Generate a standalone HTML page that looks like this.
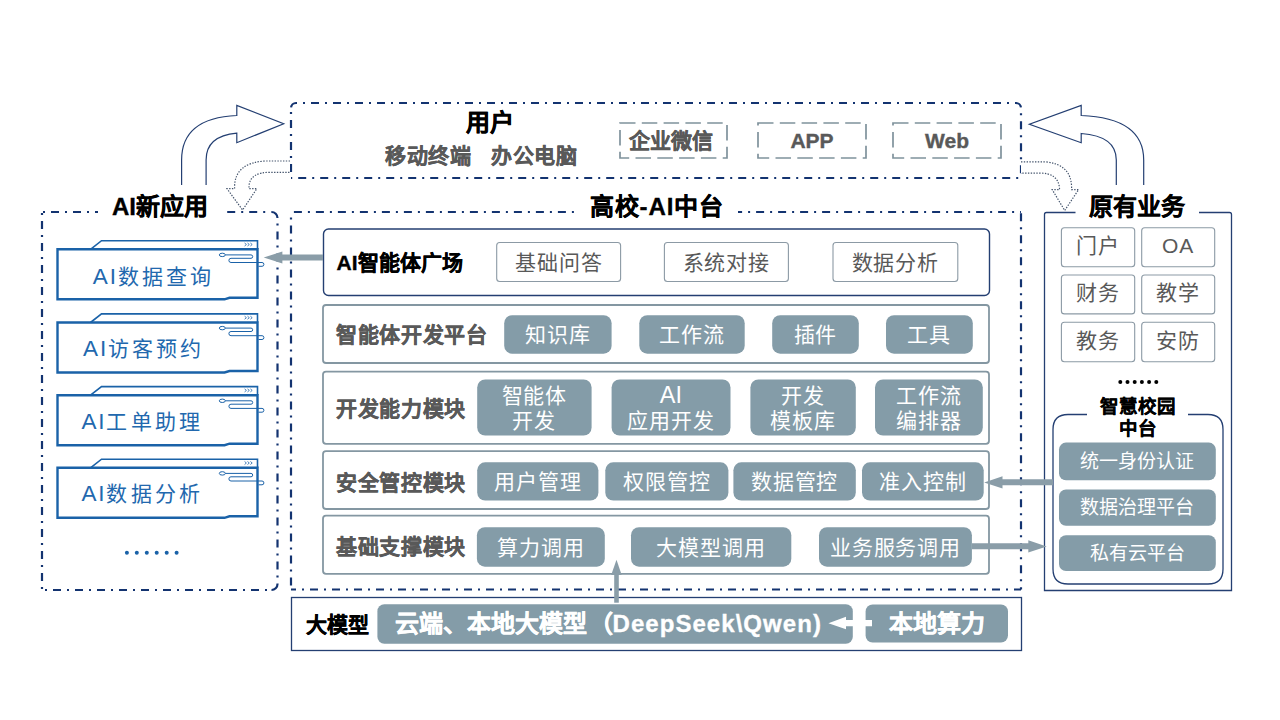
<!DOCTYPE html>
<html lang="zh-CN"><head><meta charset="utf-8"><style>
html,body{margin:0;padding:0;background:#fff;}
body{width:1280px;height:720px;position:relative;overflow:hidden;font-family:"Liberation Sans",sans-serif;}
svg{position:absolute;left:0;top:0;}
.t{position:absolute;display:flex;align-items:center;justify-content:center;text-align:center;white-space:nowrap;line-height:1;}
</style></head><body>
<svg width="1280" height="720" viewBox="0 0 1280 720">
<path d="M291 108 A5 5 0 0 1 296 103 H1016 A5 5 0 0 1 1021 108" fill="none" stroke="#133370" stroke-width="2.2" stroke-dasharray="8 6 2 6" stroke-dashoffset="-0.65"/>
<path d="M291 108 V178" fill="none" stroke="#133370" stroke-width="2.2" stroke-dasharray="8 6 2 6" stroke-dashoffset="-12.10"/>
<path d="M1021 108 V178" fill="none" stroke="#133370" stroke-width="2.2" stroke-dasharray="8 6 2 6" stroke-dashoffset="-13.30"/>
<path d="M291 178 H1021" fill="none" stroke="#133370" stroke-width="2.2" stroke-dasharray="8 6 2 6" stroke-dashoffset="-7.20"/>
<rect x="620" y="123" width="107" height="35" fill="none" stroke="#7F929C" stroke-width="1.7" stroke-dasharray="15.5 6.3"/>
<rect x="758" y="123" width="108" height="35" fill="none" stroke="#7F929C" stroke-width="1.7" stroke-dasharray="15.5 6.3"/>
<rect x="893" y="123" width="108" height="35" fill="none" stroke="#7F929C" stroke-width="1.7" stroke-dasharray="15.5 6.3"/>
<path d="M42 212 H98" fill="none" stroke="#133370" stroke-width="2.2" stroke-dasharray="8 6 2 6" stroke-dashoffset="-9.00"/>
<path d="M227 212 H271.5" fill="none" stroke="#133370" stroke-width="2.2" stroke-dasharray="8 6 2 6" stroke-dashoffset="-0.20"/>
<path d="M271.5 212 A6 6 0 0 1 277.5 218" fill="none" stroke="#133370" stroke-width="2.2"/>
<path d="M277.5 218 V584" fill="none" stroke="#133370" stroke-width="2.2" stroke-dasharray="8 6 2 6" stroke-dashoffset="-13.40"/>
<path d="M277.5 584 A6 6 0 0 1 271.5 590" fill="none" stroke="#133370" stroke-width="2.2"/>
<path d="M42 590 H271.5" fill="none" stroke="#133370" stroke-width="2.2" stroke-dasharray="8 6 2 6" stroke-dashoffset="-11.00"/>
<path d="M42 212 V590" fill="none" stroke="#133370" stroke-width="2.2" stroke-dasharray="8 6 2 6" stroke-dashoffset="-9.10"/>
<path d="M291 212 H574" fill="none" stroke="#133370" stroke-width="2.2" stroke-dasharray="8 6 2 6" stroke-dashoffset="-2.90"/>
<path d="M738 212 H1021" fill="none" stroke="#133370" stroke-width="2.2" stroke-dasharray="8 6 2 6" stroke-dashoffset="-18.10"/>
<path d="M291 212 V589.5" fill="none" stroke="#133370" stroke-width="2.2" stroke-dasharray="8 6 2 6" stroke-dashoffset="-13.40"/>
<path d="M1021 212 V589.5" fill="none" stroke="#133370" stroke-width="2.2" stroke-dasharray="8 6 2 6" stroke-dashoffset="-1.20"/>
<path d="M291 589.5 H1021" fill="none" stroke="#133370" stroke-width="2.2" stroke-dasharray="8 6 2 6" stroke-dashoffset="-19.00"/>
<path d="M1075.5 212.5 H1046.5 Q1044.5 212.5 1044.5 214.5 V590.5 H1231.5 V214.5 Q1231.5 212.5 1229.5 212.5 H1199" fill="none" stroke="#243F72" stroke-width="1.3"/>
<rect x="291.5" y="597.5" width="730" height="53" fill="none" stroke="#243F72" stroke-width="1.3"/>
<rect x="323.5" y="229" width="666" height="66.5" rx="5" fill="#fff" stroke="#243F72" stroke-width="1.4"/>
<rect x="496.7" y="242.5" width="123.90000000000003" height="39" rx="3" fill="#fff" stroke="#8C9AA5" stroke-width="1.1"/>
<rect x="664.4" y="242.5" width="124.0" height="39" rx="3" fill="#fff" stroke="#8C9AA5" stroke-width="1.1"/>
<rect x="833" y="242.5" width="124.79999999999995" height="39" rx="3" fill="#fff" stroke="#8C9AA5" stroke-width="1.1"/>
<rect x="323" y="305" width="666" height="58" rx="3" fill="#fff" stroke="#8497A2" stroke-width="1.8"/>
<rect x="504.2" y="315.2" width="107.40000000000003" height="38.5" rx="8" fill="#849CA8"/>
<rect x="639.3" y="315.2" width="105.40000000000009" height="38.5" rx="8" fill="#849CA8"/>
<rect x="772.2" y="315.2" width="86.59999999999991" height="38.5" rx="8" fill="#849CA8"/>
<rect x="886" y="315.2" width="86.79999999999995" height="38.5" rx="8" fill="#849CA8"/>
<rect x="323" y="371.6" width="666" height="72.19999999999999" rx="3" fill="#fff" stroke="#8497A2" stroke-width="1.8"/>
<rect x="477.2" y="379.4" width="114.40000000000003" height="56.200000000000045" rx="8" fill="#849CA8"/>
<rect x="611.6" y="379.4" width="118.89999999999998" height="56.200000000000045" rx="8" fill="#849CA8"/>
<rect x="750.4" y="379.4" width="105.39999999999998" height="56.200000000000045" rx="8" fill="#849CA8"/>
<rect x="875" y="379.4" width="107.79999999999995" height="56.200000000000045" rx="8" fill="#849CA8"/>
<rect x="323" y="451.2" width="666" height="57.80000000000001" rx="3" fill="#fff" stroke="#8497A2" stroke-width="1.8"/>
<rect x="477.2" y="462.3" width="121.19999999999999" height="38.19999999999999" rx="8" fill="#849CA8"/>
<rect x="605.3" y="462.3" width="123.10000000000002" height="38.19999999999999" rx="8" fill="#849CA8"/>
<rect x="733.4" y="462.3" width="122.39999999999998" height="38.19999999999999" rx="8" fill="#849CA8"/>
<rect x="862" y="462.3" width="121.70000000000005" height="38.19999999999999" rx="8" fill="#849CA8"/>
<rect x="323" y="515.7" width="666" height="58.09999999999991" rx="3" fill="#fff" stroke="#8497A2" stroke-width="1.8"/>
<rect x="476.9" y="527.2" width="127.89999999999998" height="39.5" rx="8" fill="#849CA8"/>
<rect x="631" y="527.2" width="160.29999999999995" height="39.5" rx="8" fill="#849CA8"/>
<rect x="819" y="527.2" width="152.89999999999998" height="39.5" rx="8" fill="#849CA8"/>
<rect x="377.4" y="604.3" width="475.4" height="39.4" rx="7" fill="#849CA8"/>
<rect x="865.6" y="604.5" width="142.4" height="38" rx="7" fill="#849CA8"/>
<rect x="1061.4" y="227.8" width="73.29999999999995" height="38.89999999999998" rx="3" fill="#fff" stroke="#8C9AA5" stroke-width="1.1"/>
<rect x="1141.7" y="227.8" width="73.0" height="38.89999999999998" rx="3" fill="#fff" stroke="#8C9AA5" stroke-width="1.1"/>
<rect x="1061.4" y="275" width="73.29999999999995" height="38.89999999999998" rx="3" fill="#fff" stroke="#8C9AA5" stroke-width="1.1"/>
<rect x="1141.7" y="275" width="73.0" height="38.89999999999998" rx="3" fill="#fff" stroke="#8C9AA5" stroke-width="1.1"/>
<rect x="1061.4" y="322.2" width="73.29999999999995" height="39.5" rx="3" fill="#fff" stroke="#8C9AA5" stroke-width="1.1"/>
<rect x="1141.7" y="322.2" width="73.0" height="39.5" rx="3" fill="#fff" stroke="#8C9AA5" stroke-width="1.1"/>
<circle cx="1120.3" cy="382" r="2" fill="#000"/>
<circle cx="1127.5" cy="382" r="2" fill="#000"/>
<circle cx="1134.7" cy="382" r="2" fill="#000"/>
<circle cx="1141.9" cy="382" r="2" fill="#000"/>
<circle cx="1149.1" cy="382" r="2" fill="#000"/>
<circle cx="1156.3" cy="382" r="2" fill="#000"/>
<path d="M1087 414.5 H1068 Q1053 414.5 1053 429.5 V569 Q1053 584 1068 584 H1208 Q1223 584 1223 569 V429.5 Q1223 414.5 1208 414.5 H1188" fill="none" stroke="#243F72" stroke-width="1.3"/>
<rect x="1059" y="442.6" width="156.8" height="37.599999999999966" rx="7" fill="#849CA8"/>
<rect x="1059" y="489.4" width="156.8" height="36.30000000000007" rx="7" fill="#849CA8"/>
<rect x="1059" y="535.2" width="156.8" height="35.799999999999955" rx="7" fill="#849CA8"/>
<path d="M90.5 249.3 L101.5 240.70000000000002 H257.5 V249.3" fill="none" stroke="#1A62A8" stroke-width="1.6"/>
<path d="M57.5 249.3 H257.5 V297.8 H229.5 L224.5 299.3 H57.5 Z" fill="none" stroke="#1A62A8" stroke-width="2.4"/>
<path d="M244.6 243.00000000000003 L246.4 244.50000000000003 L244.6 246.00000000000003" fill="none" stroke="#1A62A8" stroke-width="0.8"/>
<path d="M247.5 243.00000000000003 L249.3 244.50000000000003 L247.5 246.00000000000003" fill="none" stroke="#1A62A8" stroke-width="0.8"/>
<path d="M250.4 243.00000000000003 L252.20000000000002 244.50000000000003 L250.4 246.00000000000003" fill="none" stroke="#1A62A8" stroke-width="0.8"/>
<ellipse cx="222.3" cy="254.9" rx="3" ry="1.7" fill="none" stroke="#1A62A8" stroke-width="1"/>
<path d="M225.3 254.9 H251 A1.7 1.7 0 0 1 251 258.3 H231 A2.1 2.1 0 0 0 231 262.5 H262 A1.9 1.9 0 0 1 262 266.3 H258.5" fill="none" stroke="#1A62A8" stroke-width="1"/>
<path d="M90.5 322.5 L101.5 313.9 H257.5 V322.5" fill="none" stroke="#1A62A8" stroke-width="1.6"/>
<path d="M57.5 322.5 H257.5 V371.0 H229.5 L224.5 372.5 H57.5 Z" fill="none" stroke="#1A62A8" stroke-width="2.4"/>
<path d="M244.6 316.2 L246.4 317.7 L244.6 319.2" fill="none" stroke="#1A62A8" stroke-width="0.8"/>
<path d="M247.5 316.2 L249.3 317.7 L247.5 319.2" fill="none" stroke="#1A62A8" stroke-width="0.8"/>
<path d="M250.4 316.2 L252.20000000000002 317.7 L250.4 319.2" fill="none" stroke="#1A62A8" stroke-width="0.8"/>
<ellipse cx="222.3" cy="328.1" rx="3" ry="1.7" fill="none" stroke="#1A62A8" stroke-width="1"/>
<path d="M225.3 328.1 H251 A1.7 1.7 0 0 1 251 331.5 H231 A2.1 2.1 0 0 0 231 335.70000000000005 H262 A1.9 1.9 0 0 1 262 339.5 H258.5" fill="none" stroke="#1A62A8" stroke-width="1"/>
<path d="M90.5 395.2 L101.5 386.59999999999997 H257.5 V395.2" fill="none" stroke="#1A62A8" stroke-width="1.6"/>
<path d="M57.5 395.2 H257.5 V443.7 H229.5 L224.5 445.2 H57.5 Z" fill="none" stroke="#1A62A8" stroke-width="2.4"/>
<path d="M244.6 388.9 L246.4 390.4 L244.6 391.9" fill="none" stroke="#1A62A8" stroke-width="0.8"/>
<path d="M247.5 388.9 L249.3 390.4 L247.5 391.9" fill="none" stroke="#1A62A8" stroke-width="0.8"/>
<path d="M250.4 388.9 L252.20000000000002 390.4 L250.4 391.9" fill="none" stroke="#1A62A8" stroke-width="0.8"/>
<ellipse cx="222.3" cy="400.8" rx="3" ry="1.7" fill="none" stroke="#1A62A8" stroke-width="1"/>
<path d="M225.3 400.8 H251 A1.7 1.7 0 0 1 251 404.2 H231 A2.1 2.1 0 0 0 231 408.40000000000003 H262 A1.9 1.9 0 0 1 262 412.2 H258.5" fill="none" stroke="#1A62A8" stroke-width="1"/>
<path d="M90.5 467.8 L101.5 459.2 H257.5 V467.8" fill="none" stroke="#1A62A8" stroke-width="1.6"/>
<path d="M57.5 467.8 H257.5 V516.3 H229.5 L224.5 517.8 H57.5 Z" fill="none" stroke="#1A62A8" stroke-width="2.4"/>
<path d="M244.6 461.5 L246.4 463.0 L244.6 464.5" fill="none" stroke="#1A62A8" stroke-width="0.8"/>
<path d="M247.5 461.5 L249.3 463.0 L247.5 464.5" fill="none" stroke="#1A62A8" stroke-width="0.8"/>
<path d="M250.4 461.5 L252.20000000000002 463.0 L250.4 464.5" fill="none" stroke="#1A62A8" stroke-width="0.8"/>
<ellipse cx="222.3" cy="473.40000000000003" rx="3" ry="1.7" fill="none" stroke="#1A62A8" stroke-width="1"/>
<path d="M225.3 473.40000000000003 H251 A1.7 1.7 0 0 1 251 476.8 H231 A2.1 2.1 0 0 0 231 481.00000000000006 H262 A1.9 1.9 0 0 1 262 484.8 H258.5" fill="none" stroke="#1A62A8" stroke-width="1"/>
<circle cx="126.9" cy="552.7" r="2" fill="#1A62A8"/>
<circle cx="136.8" cy="552.7" r="2" fill="#1A62A8"/>
<circle cx="146.8" cy="552.7" r="2" fill="#1A62A8"/>
<circle cx="156.7" cy="552.7" r="2" fill="#1A62A8"/>
<circle cx="166.7" cy="552.7" r="2" fill="#1A62A8"/>
<circle cx="176.6" cy="552.7" r="2" fill="#1A62A8"/>
<path d="M181.6 185 V160 Q181.6 118 236.8 115.5 V105.4 L283.7 123.8 L236.8 142.7 V133.2 Q206.1 136 206.1 160 V185" fill="#fff" stroke="#243F72" stroke-width="1.2"/>
<path d="M1143.7 185 V160 Q1143.7 118 1081.2 115.5 V105.4 L1029.4 124.2 L1081.2 142.7 V133.5 Q1116.3 136 1116.3 160 V185" fill="#fff" stroke="#243F72" stroke-width="1.2"/>
<path d="M290 161 H265 Q234.6 163 234.6 187 V188.7 H227 L242.6 210 L256.8 188.7 H249 V186 Q250 172.3 270 172.3 H290" fill="#fff" stroke="#44546C" stroke-width="1.2" stroke-dasharray="1.4 1.4"/>
<path d="M1021 161.8 H1045 Q1071.6 164 1071.6 188 V189.6 H1078.6 L1064.7 210.5 L1052.2 189.6 H1059.5 V188 Q1058 173.1 1040 173.1 H1021" fill="#fff" stroke="#44546C" stroke-width="1.2" stroke-dasharray="1.4 1.4"/>
<path d="M323 257.4 H280" stroke="#8A9DA8" stroke-width="6"/>
<path d="M263.7 257.5 L282.4 251.5 L282.4 263.5 Z" fill="#8A9DA8"/>
<path d="M1053 482.3 H1000" stroke="#8A9DA8" stroke-width="6"/>
<path d="M984.2 482.4 L1002.5 476.3 L1002.5 488.4 Z" fill="#8A9DA8"/>
<path d="M972 546.3 H1030" stroke="#8A9DA8" stroke-width="6"/>
<path d="M1046.7 546.4 L1028.3 540.3 L1028.3 552.5 Z" fill="#8A9DA8"/>
<path d="M616.5 602.7 V574" stroke="#8A9DA8" stroke-width="4.6"/>
<path d="M616.5 559.8 L611.2 575 L621.7 575 Z" fill="#8A9DA8"/>
<path d="M846 620.1 H872 V626.3 H846 V629.2 L828.4 623.3 L846 616.7 Z" fill="#fff"/>
</svg>
<div class="t" style="left:440px;top:108px;width:100px;height:30px;font-size:24px;color:#000;font-weight:bold;-webkit-text-stroke:0.35px #000;"><span>用户</span></div>
<div class="t" style="left:380.5px;top:140px;width:95px;height:30px;font-size:21px;color:#595959;font-weight:bold;-webkit-text-stroke:0.35px #595959;letter-spacing:0.5px;"><span>移动终端</span></div>
<div class="t" style="left:486.5px;top:140px;width:95px;height:30px;font-size:21px;color:#595959;font-weight:bold;-webkit-text-stroke:0.35px #595959;letter-spacing:0.5px;"><span>办公电脑</span></div>
<div class="t" style="left:617.5px;top:123px;width:107px;height:35px;font-size:21px;color:#595959;font-weight:bold;-webkit-text-stroke:0.35px #595959;"><span>企业微信</span></div>
<div class="t" style="left:758px;top:123px;width:108px;height:35px;font-size:21px;color:#595959;font-weight:bold;-webkit-text-stroke:0.35px #595959;"><span>APP</span></div>
<div class="t" style="left:893px;top:123px;width:108px;height:35px;font-size:21px;color:#595959;font-weight:bold;-webkit-text-stroke:0.35px #595959;"><span>Web</span></div>
<div class="t" style="left:100px;top:192px;width:120px;height:30px;font-size:24px;color:#000;font-weight:bold;-webkit-text-stroke:0.35px #000;"><span>AI新应用</span></div>
<div class="t" style="left:582px;top:192px;width:150px;height:30px;font-size:24px;color:#000;font-weight:bold;-webkit-text-stroke:0.35px #000;letter-spacing:1px;"><span>高校-AI中台</span></div>
<div class="t" style="left:1082px;top:192px;width:110px;height:30px;font-size:24px;color:#000;font-weight:bold;-webkit-text-stroke:0.35px #000;"><span>原有业务</span></div>
<div class="t" style="left:300px;top:609px;width:75px;height:30px;font-size:21px;color:#000;font-weight:bold;-webkit-text-stroke:0.35px #000;"><span>大模型</span></div>
<div class="t" style="left:336.5px;top:247px;width:140px;height:30px;font-size:21px;color:#000;font-weight:bold;-webkit-text-stroke:0.35px #000;justify-content:flex-start;"><span>AI智能体广场</span></div>
<div class="t" style="left:496.7px;top:242.8px;width:123.90000000000003px;height:39px;font-size:21px;color:#595959;font-weight:normal;letter-spacing:0.9px;"><span>基础问答</span></div>
<div class="t" style="left:664.4px;top:242.8px;width:124.0px;height:39px;font-size:21px;color:#595959;font-weight:normal;letter-spacing:0.9px;"><span>系统对接</span></div>
<div class="t" style="left:833px;top:242.8px;width:124.79999999999995px;height:39px;font-size:21px;color:#595959;font-weight:normal;letter-spacing:0.9px;"><span>数据分析</span></div>
<div class="t" style="left:336px;top:305.5px;width:170px;height:58px;font-size:21px;color:#595959;font-weight:bold;-webkit-text-stroke:0.35px #595959;justify-content:flex-start;letter-spacing:0.7px;"><span>智能体开发平台</span></div>
<div class="t" style="left:504.2px;top:315.7px;width:107.40000000000003px;height:38.5px;font-size:21px;color:#fff;font-weight:normal;line-height:25px;letter-spacing:0.9px;"><span>知识库</span></div>
<div class="t" style="left:639.3px;top:315.7px;width:105.40000000000009px;height:38.5px;font-size:21px;color:#fff;font-weight:normal;line-height:25px;letter-spacing:0.9px;"><span>工作流</span></div>
<div class="t" style="left:772.2px;top:315.7px;width:86.59999999999991px;height:38.5px;font-size:21px;color:#fff;font-weight:normal;line-height:25px;letter-spacing:0.9px;"><span>插件</span></div>
<div class="t" style="left:886px;top:315.7px;width:86.79999999999995px;height:38.5px;font-size:21px;color:#fff;font-weight:normal;line-height:25px;letter-spacing:0.9px;"><span>工具</span></div>
<div class="t" style="left:336px;top:372.6px;width:170px;height:72.19999999999999px;font-size:21px;color:#595959;font-weight:bold;-webkit-text-stroke:0.35px #595959;justify-content:flex-start;letter-spacing:0.7px;"><span>开发能力模块</span></div>
<div class="t" style="left:477.2px;top:379.9px;width:114.40000000000003px;height:56.200000000000045px;font-size:21px;color:#fff;font-weight:normal;line-height:25px;letter-spacing:0.9px;"><span>智能体<br>开发</span></div>
<div class="t" style="left:611.6px;top:379.9px;width:118.89999999999998px;height:56.200000000000045px;font-size:21px;color:#fff;font-weight:normal;line-height:25px;letter-spacing:0.9px;"><span><span style="font-size:23.5px;letter-spacing:0.3px">AI</span><br>应用开发</span></div>
<div class="t" style="left:750.4px;top:379.9px;width:105.39999999999998px;height:56.200000000000045px;font-size:21px;color:#fff;font-weight:normal;line-height:25px;letter-spacing:0.9px;"><span>开发<br>模板库</span></div>
<div class="t" style="left:875px;top:379.9px;width:107.79999999999995px;height:56.200000000000045px;font-size:21px;color:#fff;font-weight:normal;line-height:25px;letter-spacing:0.9px;"><span>工作流<br>编排器</span></div>
<div class="t" style="left:336px;top:453.7px;width:170px;height:57.80000000000001px;font-size:21px;color:#595959;font-weight:bold;-webkit-text-stroke:0.35px #595959;justify-content:flex-start;letter-spacing:0.7px;"><span>安全管控模块</span></div>
<div class="t" style="left:477.2px;top:462.8px;width:121.19999999999999px;height:38.19999999999999px;font-size:21px;color:#fff;font-weight:normal;line-height:25px;letter-spacing:0.9px;"><span>用户管理</span></div>
<div class="t" style="left:605.3px;top:462.8px;width:123.10000000000002px;height:38.19999999999999px;font-size:21px;color:#fff;font-weight:normal;line-height:25px;letter-spacing:0.9px;"><span>权限管控</span></div>
<div class="t" style="left:733.4px;top:462.8px;width:122.39999999999998px;height:38.19999999999999px;font-size:21px;color:#fff;font-weight:normal;line-height:25px;letter-spacing:0.9px;"><span>数据管控</span></div>
<div class="t" style="left:862px;top:462.8px;width:121.70000000000005px;height:38.19999999999999px;font-size:21px;color:#fff;font-weight:normal;line-height:25px;letter-spacing:0.9px;"><span>准入控制</span></div>
<div class="t" style="left:336px;top:517.9000000000001px;width:170px;height:58.09999999999991px;font-size:21px;color:#595959;font-weight:bold;-webkit-text-stroke:0.35px #595959;justify-content:flex-start;letter-spacing:0.7px;"><span>基础支撑模块</span></div>
<div class="t" style="left:476.9px;top:527.7px;width:127.89999999999998px;height:39.5px;font-size:21px;color:#fff;font-weight:normal;line-height:25px;letter-spacing:0.9px;"><span>算力调用</span></div>
<div class="t" style="left:631px;top:527.7px;width:160.29999999999995px;height:39.5px;font-size:21px;color:#fff;font-weight:normal;line-height:25px;letter-spacing:0.9px;"><span>大模型调用</span></div>
<div class="t" style="left:819px;top:527.7px;width:152.89999999999998px;height:39.5px;font-size:21px;color:#fff;font-weight:normal;line-height:25px;letter-spacing:0.9px;"><span>业务服务调用</span></div>
<div class="t" style="left:394.5px;top:604.3px;width:460px;height:39.4px;font-size:24px;color:#fff;font-weight:bold;-webkit-text-stroke:0.35px #fff;justify-content:flex-start;"><span>云端、本地大模型<span style="margin-left:2px">（</span><span style="letter-spacing:1.05px">DeepSeek\Qwen)</span></span></div>
<div class="t" style="left:865.6px;top:604.5px;width:142.4px;height:38px;font-size:24px;color:#fff;font-weight:bold;-webkit-text-stroke:0.35px #fff;"><span>本地算力</span></div>
<div class="t" style="left:1061.4px;top:226.3px;width:73.29999999999995px;height:38.89999999999998px;font-size:21px;color:#595959;font-weight:normal;letter-spacing:0.9px;"><span>门户</span></div>
<div class="t" style="left:1141.7px;top:226.3px;width:73.0px;height:38.89999999999998px;font-size:21px;color:#595959;font-weight:normal;letter-spacing:0.9px;"><span>OA</span></div>
<div class="t" style="left:1061.4px;top:273.5px;width:73.29999999999995px;height:38.89999999999998px;font-size:21px;color:#595959;font-weight:normal;letter-spacing:0.9px;"><span>财务</span></div>
<div class="t" style="left:1141.7px;top:273.5px;width:73.0px;height:38.89999999999998px;font-size:21px;color:#595959;font-weight:normal;letter-spacing:0.9px;"><span>教学</span></div>
<div class="t" style="left:1061.4px;top:320.7px;width:73.29999999999995px;height:39.5px;font-size:21px;color:#595959;font-weight:normal;letter-spacing:0.9px;"><span>教务</span></div>
<div class="t" style="left:1141.7px;top:320.7px;width:73.0px;height:39.5px;font-size:21px;color:#595959;font-weight:normal;letter-spacing:0.9px;"><span>安防</span></div>
<div class="t" style="left:1080px;top:395px;width:116px;height:46px;font-size:18.5px;color:#000;font-weight:bold;-webkit-text-stroke:0.35px #000;line-height:22px;-webkit-text-stroke:0.2px #000;"><span>智慧校园<br>中台</span></div>
<div class="t" style="left:1059px;top:442.6px;width:156.8px;height:37.599999999999966px;font-size:19px;color:#fff;font-weight:normal;"><span>统一身份认证</span></div>
<div class="t" style="left:1059px;top:489.4px;width:156.8px;height:36.30000000000007px;font-size:19px;color:#fff;font-weight:normal;"><span>数据治理平台</span></div>
<div class="t" style="left:1059px;top:535.2px;width:156.8px;height:35.799999999999955px;font-size:19px;color:#fff;font-weight:normal;"><span>私有云平台</span></div>
<div class="t" style="left:92.8px;top:266.40000000000003px;width:135px;height:22px;font-size:21px;color:#2268AE;font-weight:normal;justify-content:flex-start;letter-spacing:3.1px;align-items:baseline;line-height:22px;"><span><span style="font-size:22.5px;letter-spacing:1.9px">AI</span>数据查询</span></div>
<div class="t" style="left:83.1px;top:337.6px;width:135px;height:22px;font-size:21px;color:#2268AE;font-weight:normal;justify-content:flex-start;letter-spacing:3.1px;align-items:baseline;line-height:22px;"><span><span style="font-size:22.5px;letter-spacing:1.9px">AI</span>访客预约</span></div>
<div class="t" style="left:81.39999999999999px;top:410.6px;width:135px;height:22px;font-size:21px;color:#2268AE;font-weight:normal;justify-content:flex-start;letter-spacing:3.1px;align-items:baseline;line-height:22px;"><span><span style="font-size:22.5px;letter-spacing:1.9px">AI</span>工单助理</span></div>
<div class="t" style="left:81.39999999999999px;top:483.20000000000005px;width:135px;height:22px;font-size:21px;color:#2268AE;font-weight:normal;justify-content:flex-start;letter-spacing:3.1px;align-items:baseline;line-height:22px;"><span><span style="font-size:22.5px;letter-spacing:1.9px">AI</span>数据分析</span></div>
</body></html>
